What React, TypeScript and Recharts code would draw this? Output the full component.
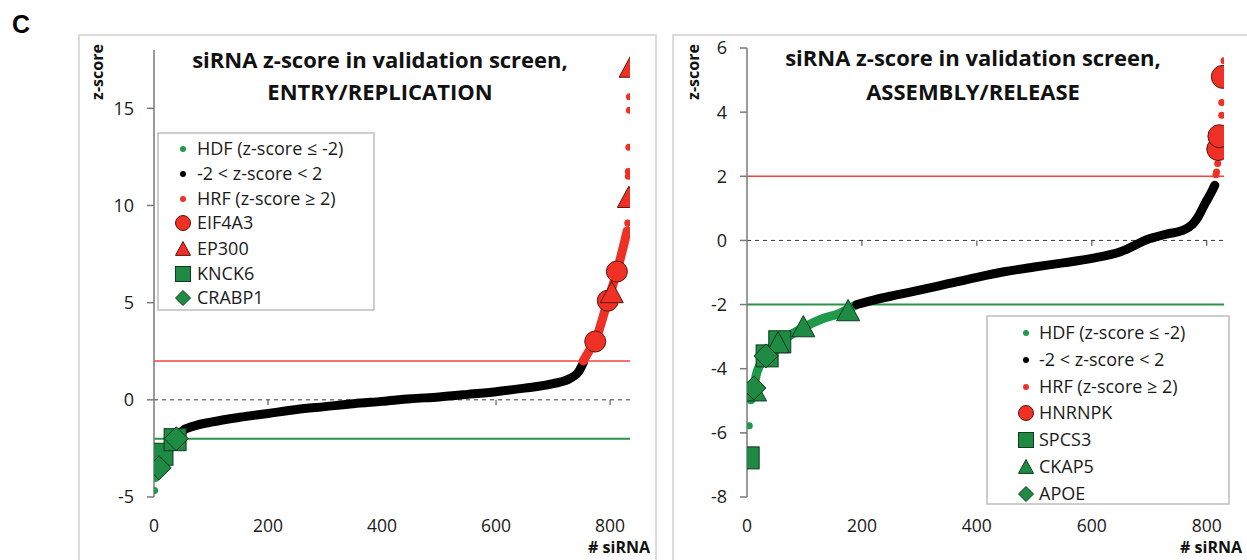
import React from 'react'
import { ComposedChart, Line, Scatter, XAxis, YAxis, ReferenceLine } from 'recharts'

const RED = '#EE3124'
const GREEN = '#1E8A44'
const DOT_GREEN = '#1F9A4A'
const FONT = '"Open Sans", Lato, sans-serif'

const xTicks = [0, 200, 400, 600, 800]

// ---- ENTRY/REPLICATION panel (sorted z-scores) ----
const leftYTicks = [-5, 0, 5, 10, 15]
const leftGreenBand = [
  { n: 3, z: -4.0 }, { n: 6, z: -3.6 }, { n: 10, z: -3.1 }, { n: 15, z: -2.7 },
  { n: 22, z: -2.4 }, { n: 30, z: -2.2 }, { n: 40, z: -2.0 },
]
const leftBlackBand = [
  { n: 40, z: -1.98 }, { n: 50, z: -1.6 }, { n: 70, z: -1.35 }, { n: 100, z: -1.15 },
  { n: 150, z: -0.9 }, { n: 200, z: -0.7 }, { n: 250, z: -0.5 }, { n: 300, z: -0.35 },
  { n: 350, z: -0.2 }, { n: 400, z: -0.08 }, { n: 450, z: 0.05 }, { n: 500, z: 0.15 },
  { n: 550, z: 0.28 }, { n: 600, z: 0.42 }, { n: 650, z: 0.6 }, { n: 700, z: 0.83 },
  { n: 730, z: 1.1 }, { n: 745, z: 1.45 }, { n: 753, z: 1.9 },
]
const leftRedBand = [
  { n: 753, z: 2.0 }, { n: 765, z: 2.6 }, { n: 774, z: 3.0 }, { n: 785, z: 4.0 },
  { n: 796, z: 5.1 }, { n: 806, z: 6.0 }, { n: 812, z: 6.6 }, { n: 820, z: 7.5 },
  { n: 826, z: 8.2 }, { n: 830, z: 8.7 },
]
const leftGreenDots = [{ n: 1, z: -4.67 }, { n: 2, z: -3.95 }]
const leftRedDots = [
  { n: 831, z: 9.1 }, { n: 832, z: 11.5 }, { n: 832, z: 11.75 }, { n: 833, z: 13.0 },
  { n: 834, z: 14.9 }, { n: 834, z: 15.6 },
]
const eif4a3 = [{ n: 774, z: 3.0 }, { n: 796, z: 5.1 }, { n: 812, z: 6.6 }]
const ep300 = [{ n: 803, z: 5.5 }, { n: 833, z: 10.4 }, { n: 836, z: 17.1 }]
const knck6 = [{ n: 14, z: -2.8 }, { n: 37, z: -2.05 }]
const crabp1 = [{ n: 9, z: -3.5 }, { n: 39, z: -2.0 }]

// ---- ASSEMBLY/RELEASE panel ----
const rightYTicks = [-8, -6, -4, -2, 0, 2, 4, 6]
const rightGreenBand = [
  { n: 8, z: -4.95 }, { n: 12, z: -4.6 }, { n: 16, z: -4.2 }, { n: 22, z: -3.9 },
  { n: 33, z: -3.6 }, { n: 45, z: -3.35 }, { n: 60, z: -3.15 }, { n: 80, z: -2.9 },
  { n: 100, z: -2.7 }, { n: 130, z: -2.45 }, { n: 160, z: -2.28 }, { n: 188, z: -2.03 },
]
const rightBlackBand = [
  { n: 191, z: -2.0 }, { n: 220, z: -1.86 }, { n: 260, z: -1.7 }, { n: 300, z: -1.55 },
  { n: 350, z: -1.35 }, { n: 400, z: -1.15 }, { n: 450, z: -0.97 }, { n: 500, z: -0.83 },
  { n: 550, z: -0.7 }, { n: 600, z: -0.56 }, { n: 650, z: -0.35 }, { n: 700, z: 0.05 },
  { n: 730, z: 0.2 }, { n: 758, z: 0.31 }, { n: 775, z: 0.5 }, { n: 783, z: 0.68 },
  { n: 797, z: 1.15 }, { n: 808, z: 1.5 }, { n: 814, z: 1.72 },
]
const rightGreenDots = [{ n: 4, z: -5.78 }, { n: 6, z: -5.0 }]
const rightRedDots = [
  { n: 816, z: 2.05 }, { n: 817, z: 2.13 }, { n: 819, z: 2.4 }, { n: 820, z: 2.65 },
  { n: 826, z: 3.9 }, { n: 826, z: 4.3 }, { n: 830, z: 5.6 },
]
const hnrnpk = [{ n: 820, z: 2.85 }, { n: 822, z: 3.25 }, { n: 828, z: 5.1 }]
const spcs3 = [{ n: 2, z: -6.78 }, { n: 35, z: -3.6 }, { n: 57, z: -3.16 }]
const ckap5 = [{ n: 14, z: -4.7 }, { n: 54, z: -3.2 }, { n: 98, z: -2.7 }, { n: 176, z: -2.2 }]
const apoe = [{ n: 12, z: -4.6 }, { n: 33, z: -3.6 }]

type Kind = 'dot' | 'circle' | 'triangle' | 'square' | 'diamond'

function glyph(kind: Kind, cx: number, cy: number, s: number, fill: string, key?: string) {
  const stroke = fill === RED ? '#5b1410' : '#0d3a1c'
  const h = s / 2
  if (kind === 'dot') return <circle key={key} cx={cx} cy={cy} r={h} fill={fill} />
  if (kind === 'circle') return <circle key={key} cx={cx} cy={cy} r={h} fill={fill} stroke={stroke} strokeWidth={1} />
  if (kind === 'square') return <rect key={key} x={cx - h} y={cy - h} width={s} height={s} fill={fill} stroke={stroke} strokeWidth={1} />
  if (kind === 'triangle')
    return <path key={key} d={`M${cx},${cy - h}L${cx + h},${cy + h * 0.85}L${cx - h},${cy + h * 0.85}Z`} fill={fill} stroke={stroke} strokeWidth={1} />
  return <path key={key} d={`M${cx},${cy - h}L${cx + h},${cy}L${cx},${cy + h}L${cx - h},${cy}Z`} fill={fill} stroke={stroke} strokeWidth={1} />
}

const shape = (kind: Kind, s: number, fill: string) => (p: any) => glyph(kind, p.cx, p.cy, s, fill)

function band(data: any[], color: string) {
  return (
    <Line data={data} dataKey="z" type="monotone" stroke={color} strokeWidth={9}
      strokeLinecap="round" strokeLinejoin="round" dot={false} activeDot={false} isAnimationActive={false} />
  )
}

function pts(data: any[], kind: Kind, s: number, fill: string) {
  return <Scatter data={data} dataKey="z" shape={shape(kind, s, fill)} isAnimationActive={false} />
}

const tickStyle = { fill: '#1a1a1a', fontSize: 18, fontFamily: FONT }

function Panel(props: {
  left: number; width: number; padTop: number; xMax: number; yDomain: [number, number]; yTicks: number[];
  plotW: number; plotH: number; tickLen: number; children: React.ReactNode
}) {
  const { left, width, padTop, xMax, yDomain, yTicks, plotW, plotH, tickLen, children } = props
  return (
    <div style={{ position: 'absolute', left, top: 36, width, height: 524 }}>
      <ComposedChart width={width} height={524}
        margin={{ top: padTop, right: width - 74 - plotW, bottom: 524 - padTop - plotH - 40, left: 14 }}>
        <XAxis type="number" dataKey="n" domain={[0, xMax]} ticks={xTicks} axisLine={false} tickLine={false}
          tickSize={0} tickMargin={23} height={40} tick={{ ...tickStyle, fontSize: 17.5 }} allowDataOverflow />
        <YAxis type="number" dataKey="z" domain={yDomain} ticks={yTicks} width={60} tickSize={7} tickMargin={13}
          axisLine={{ stroke: '#7a7a7a', strokeWidth: 1.5 }} tickLine={{ stroke: '#7a7a7a', strokeWidth: 1.5 }} tick={tickStyle} allowDataOverflow />
        <ReferenceLine y={0} stroke="#3a3a3a" strokeDasharray="4 4" strokeWidth={1} />
        {xTicks.slice(1).map(t => (
          <ReferenceLine key={t} segment={[{ x: t, y: 0 }, { x: t, y: -tickLen }]} stroke="#3a3a3a" strokeWidth={1} />
        ))}
        <ReferenceLine y={2} stroke="#F2443C" strokeWidth={1.5} />
        <ReferenceLine y={-2} stroke="#2A9446" strokeWidth={2} />
        {children}
      </ComposedChart>
    </div>
  )
}

function LegendBox(props: { x: number; y: number; w: number; h: number; textX: number; markX: number; rows: number[];
  items: { kind: Kind; color: string; label: string }[] }) {
  const { x, y, w, h, textX, markX, rows, items } = props
  return (
    <g>
      <rect x={x} y={y} width={w} height={h} fill="#fff" stroke="#bdbdbd" strokeWidth={1.5} />
      {items.map((it, i) => (
        <g key={it.label}>
          {glyph(it.kind, markX, rows[i], it.kind === 'dot' ? 6 : 15, it.color)}
          <text x={textX} y={rows[i] + 6} fontSize={18} fontFamily={FONT} fill="#1a1a1a">{it.label}</text>
        </g>
      ))}
    </g>
  )
}

const baseItems: { kind: Kind; color: string; label: string }[] = [
  { kind: 'dot', color: DOT_GREEN, label: 'HDF (z-score ≤ -2)' },
  { kind: 'dot', color: '#000', label: '-2 < z-score < 2' },
  { kind: 'dot', color: RED, label: 'HRF (z-score ≥ 2)' },
]

const titleProps = { textAnchor: 'middle' as const, fontSize: 22, fontWeight: 'bold', fontFamily: FONT, fill: '#111' }
const axisLabelProps = { fontSize: 16, fontWeight: 'bold', fontFamily: FONT, fill: '#111' }

export default function App() {
  return (
    <div style={{ position: 'absolute', left: 0, top: 0, width: 1247, height: 560, background: '#fff', overflow: 'hidden' }}>
      <svg width={1247} height={560} style={{ position: 'absolute', left: 0, top: 0 }}>
        <rect x={79} y={35} width={577} height={540} fill="none" stroke="#d0d0d0" strokeWidth={1.5} />
        <rect x={673} y={35} width={590} height={540} fill="none" stroke="#d0d0d0" strokeWidth={1.5} />
      </svg>

      <Panel left={80} width={576} padTop={14} xMax={835} yDomain={[-5, 18]} yTicks={leftYTicks} plotW={476} plotH={447} tickLen={0.27}>
        {band(leftGreenBand, DOT_GREEN)}
        {band(leftBlackBand, '#000')}
        {band(leftRedBand, RED)}
        {pts(leftGreenDots, 'dot', 7, DOT_GREEN)}
        {pts(leftRedDots, 'dot', 7, RED)}
        {pts(knck6, 'square', 22, GREEN)}
        {pts(crabp1, 'diamond', 24, GREEN)}
        {pts(eif4a3, 'circle', 21, RED)}
        {pts(ep300, 'triangle', 23, RED)}
      </Panel>

      <Panel left={673} width={574} padTop={12} xMax={830} yDomain={[-8, 6]} yTicks={rightYTicks} plotW={477} plotH={449} tickLen={0.17}>
        {band(rightGreenBand, DOT_GREEN)}
        {band(rightBlackBand, '#000')}
        {pts(rightGreenDots, 'dot', 7, DOT_GREEN)}
        {pts(rightRedDots, 'dot', 7, RED)}
        {pts(spcs3, 'square', 22, GREEN)}
        {pts(ckap5, 'triangle', 23, GREEN)}
        {pts(apoe, 'diamond', 24, GREEN)}
        {pts(hnrnpk, 'circle', 23, RED)}
      </Panel>

      <svg width={1247} height={560} style={{ position: 'absolute', left: 0, top: 0, pointerEvents: 'none' }}>
        <text x={12} y={33} fontSize={25} fontWeight="bold" fontFamily="'Liberation Sans', Arial, sans-serif">C</text>

        <text x={380} y={68} {...titleProps}>siRNA z-score in validation screen,</text>
        <text x={380} y={100} {...titleProps}>ENTRY/REPLICATION</text>
        <text x={973} y={66} {...titleProps}>siRNA z-score in validation screen,</text>
        <text x={973} y={100} {...titleProps}>ASSEMBLY/RELEASE</text>

        <text transform="translate(103,72) rotate(-90)" textAnchor="middle" {...axisLabelProps}>z-score</text>
        <text transform="translate(699,72) rotate(-90)" textAnchor="middle" {...axisLabelProps}>z-score</text>
        <text x={650} y={553} textAnchor="end" {...axisLabelProps}># siRNA</text>
        <text x={1242} y={553} textAnchor="end" {...axisLabelProps}># siRNA</text>

        <LegendBox x={158} y={133} w={216} h={177} textX={197} markX={183}
          rows={[149, 174, 199, 223, 249, 274, 298]}
          items={[...baseItems,
            { kind: 'circle', color: RED, label: 'EIF4A3' },
            { kind: 'triangle', color: RED, label: 'EP300' },
            { kind: 'square', color: GREEN, label: 'KNCK6' },
            { kind: 'diamond', color: GREEN, label: 'CRABP1' }]} />
        <LegendBox x={987} y={316} w={242} h={188} textX={1039} markX={1026}
          rows={[333, 360, 387, 413, 440, 467, 494]}
          items={[...baseItems,
            { kind: 'circle', color: RED, label: 'HNRNPK' },
            { kind: 'square', color: GREEN, label: 'SPCS3' },
            { kind: 'triangle', color: GREEN, label: 'CKAP5' },
            { kind: 'diamond', color: GREEN, label: 'APOE' }]} />
      </svg>
    </div>
  )
}
